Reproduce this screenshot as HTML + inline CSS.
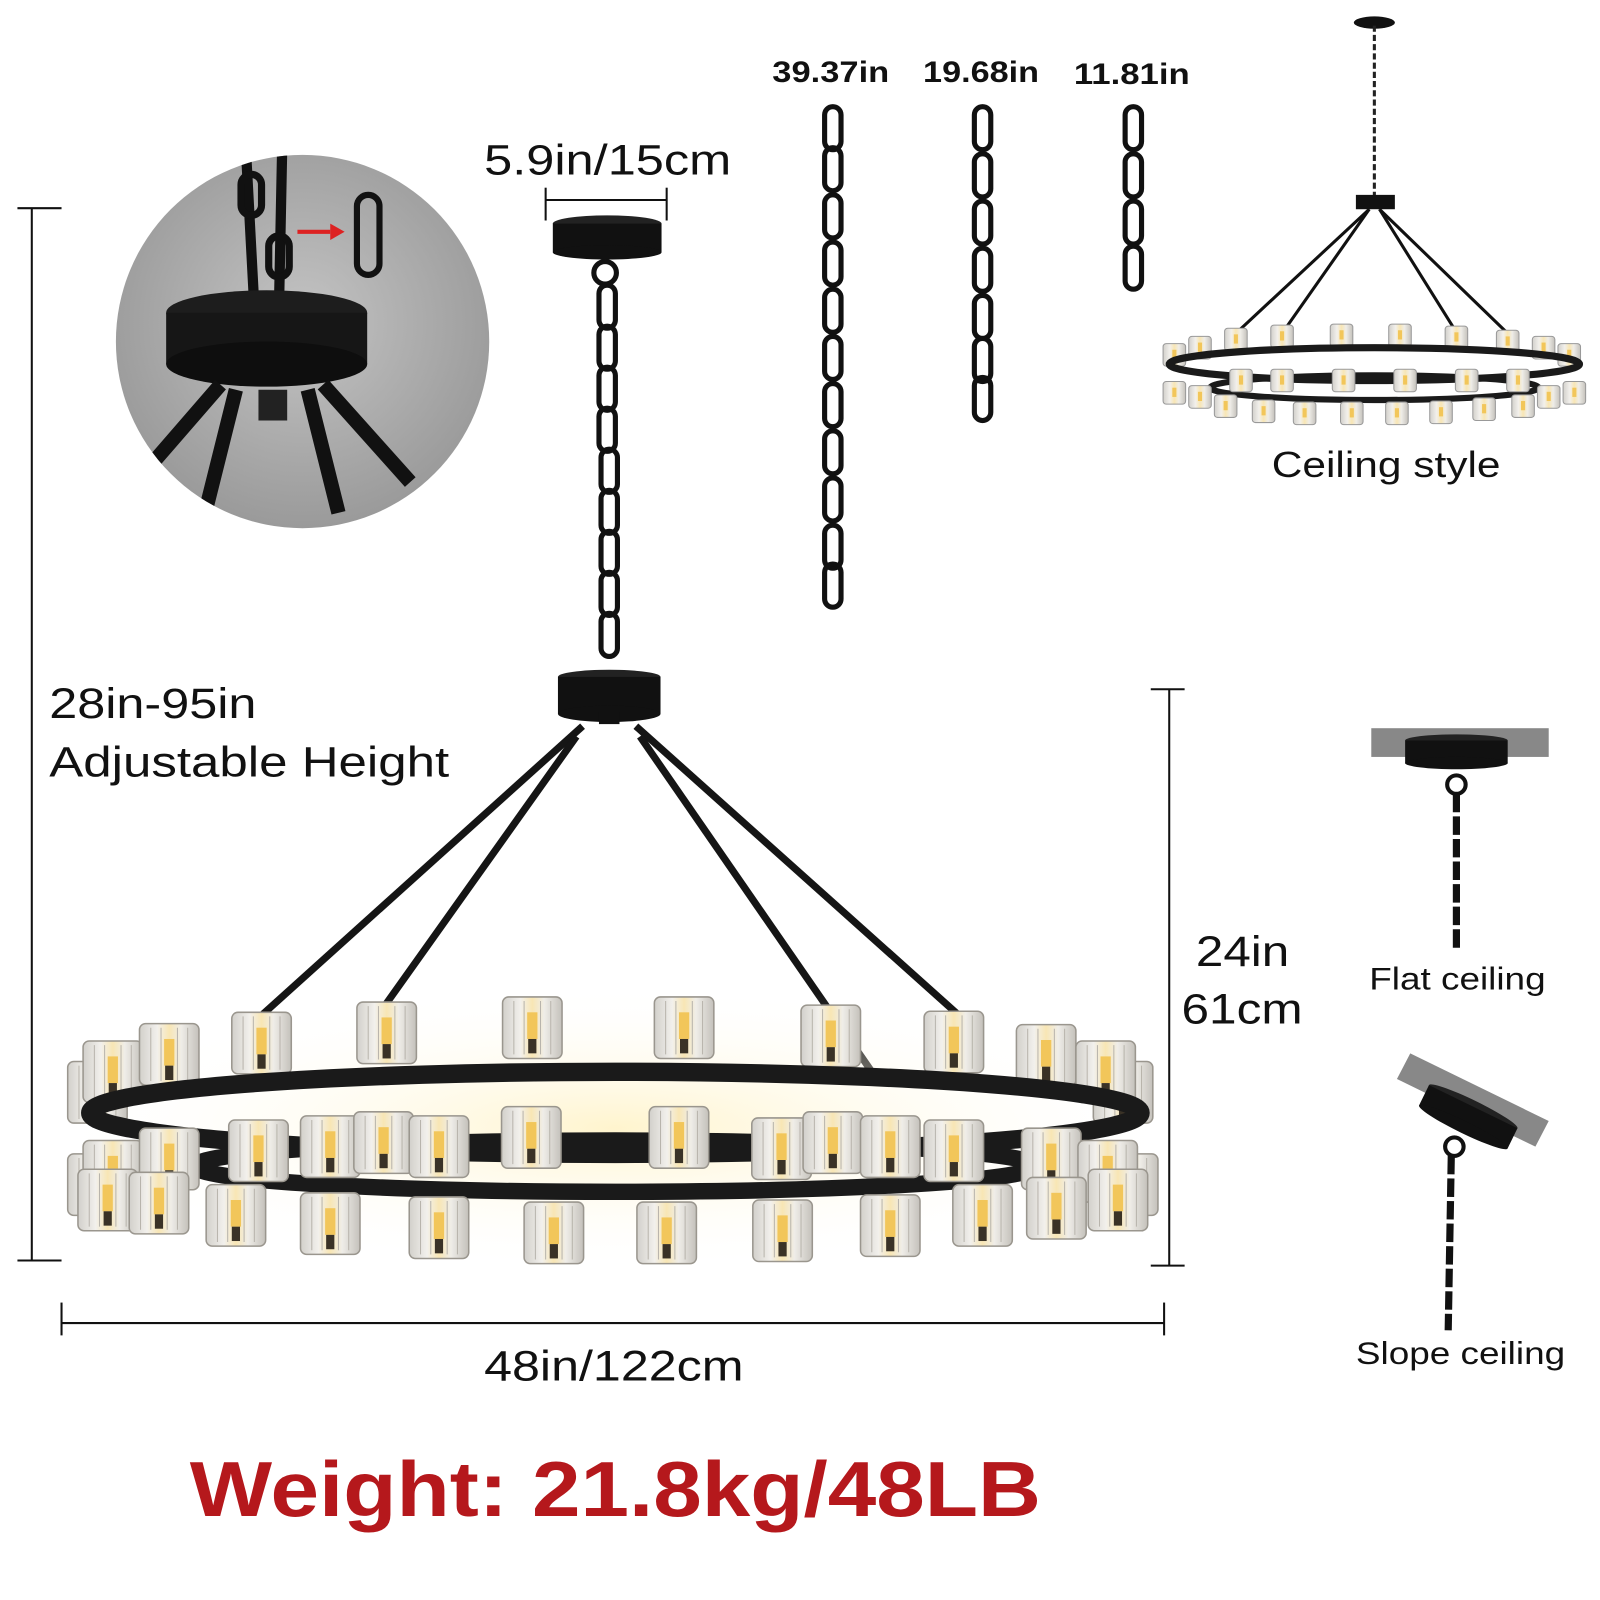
<!DOCTYPE html>
<html><head><meta charset="utf-8"><style>
html,body{margin:0;padding:0;background:#fff;}
svg{display:block;}
text{font-family:"Liberation Sans",Arial,sans-serif;fill:#111;}
</style></head><body>
<svg width="1600" height="1600" viewBox="0 0 1560 1560" xmlns="http://www.w3.org/2000/svg">
<defs>
<radialGradient id="glow" cx="50%" cy="50%" r="50%">
<stop offset="0" stop-color="#fff3c8" stop-opacity="0.9"/><stop offset="1" stop-color="#fff" stop-opacity="0"/></radialGradient>
<linearGradient id="glass" x1="0" x2="1">
<stop offset="0" stop-color="#d2d0cb"/><stop offset="0.3" stop-color="#f2f0ec"/><stop offset="0.5" stop-color="#f8e6b4"/><stop offset="0.7" stop-color="#efede8"/><stop offset="1" stop-color="#c4c1bb"/></linearGradient>
<radialGradient id="inset" cx="50%" cy="45%" r="55%"><stop offset="0" stop-color="#c4c4c4"/><stop offset="1" stop-color="#9a9a9a"/></radialGradient>
<clipPath id="cc"><circle cx="295" cy="333" r="182"/></clipPath>
<g id="sh"><rect x="-29" y="0" width="58" height="60" rx="6" fill="url(#glass)" stroke="#9a968e" stroke-width="1.5"/>
<path d="M-18 4V56M-8 4V56M8 4V56M18 4V56" stroke="#b8b4ac" stroke-width="1"/>
<rect x="-5" y="15" width="10" height="26" fill="#f2c65a"/><rect x="-4" y="41" width="8" height="14" fill="#3a3226"/></g>
<g id="ssh"><rect x="-11" y="0" width="22" height="22" rx="3" fill="url(#glass)" stroke="#999" stroke-width="1"/><rect x="-2" y="6" width="4" height="9" fill="#f2c65a"/></g>
<g id="lnk"><rect x="-8" y="0" width="16" height="42" rx="8" fill="none" stroke="#111" stroke-width="5"/></g>
</defs>

<!-- left height dimension -->
<g stroke="#111" stroke-width="2"><line x1="31" y1="203" x2="31" y2="1229"/><line x1="17" y1="203" x2="60" y2="203"/><line x1="17" y1="1229" x2="60" y2="1229"/></g>
<text x="48" y="700" font-size="42" textLength="202" lengthAdjust="spacingAndGlyphs">28in-95in</text>
<text x="48" y="757" font-size="42" textLength="390" lengthAdjust="spacingAndGlyphs">Adjustable Height</text>

<!-- inset circle -->
<circle cx="295" cy="333" r="182" fill="url(#inset)"/>
<g clip-path="url(#cc)">
<path d="M240 150 L248 300 M275 150 L272 300" stroke="#111" stroke-width="10" fill="none"/>
<rect x="235" y="170" width="20" height="40" rx="10" fill="none" stroke="#111" stroke-width="7"/>
<rect x="262" y="230" width="20" height="40" rx="10" fill="none" stroke="#111" stroke-width="7"/>
<ellipse cx="260" cy="305" rx="98" ry="22" fill="#1d1d1d"/>
<rect x="162" y="305" width="196" height="50" fill="#161616"/>
<ellipse cx="260" cy="355" rx="98" ry="22" fill="#0e0e0e"/>
<rect x="252" y="380" width="28" height="30" fill="#222"/>
<path d="M215 375 L150 450 M230 380 L200 500 M315 375 L400 470 M300 380 L330 500" stroke="#111" stroke-width="14" fill="none"/>
</g>
<rect x="348" y="190" width="22" height="78" rx="11" fill="none" stroke="#111" stroke-width="6"/>
<path d="M290 226 H322" stroke="#d22" stroke-width="4"/><path d="M322 218 L336 226 L322 234Z" fill="#d22"/>

<!-- 5.9in -->
<text x="472" y="170" font-size="42" textLength="241" lengthAdjust="spacingAndGlyphs">5.9in/15cm</text>
<g stroke="#111" stroke-width="2"><line x1="532" y1="195" x2="650" y2="195"/><line x1="532" y1="183" x2="532" y2="215"/><line x1="650" y1="183" x2="650" y2="215"/></g>
<ellipse cx="592" cy="218" rx="53" ry="8" fill="#222"/><rect x="539" y="218" width="106" height="28" fill="#111"/><ellipse cx="592" cy="246" rx="53" ry="7" fill="#111"/>
<circle cx="590" cy="266" r="11" fill="none" stroke="#111" stroke-width="5"/>
<g><use href="#lnk" x="592" y="278"/><use href="#lnk" x="592" y="318"/><use href="#lnk" x="592" y="358"/><use href="#lnk" x="592" y="398"/><use href="#lnk" x="594" y="438"/><use href="#lnk" x="594" y="478"/><use href="#lnk" x="594" y="518"/><use href="#lnk" x="594" y="558"/><use href="#lnk" x="594" y="598"/></g>
<ellipse cx="594" cy="660" rx="50" ry="7" fill="#222"/><rect x="544" y="660" width="100" height="36" fill="#111"/><ellipse cx="594" cy="696" rx="50" ry="8" fill="#111"/>
<rect x="584" y="694" width="20" height="12" fill="#111"/>
<!-- rods -->
<g stroke="#151515" stroke-width="7"><line x1="568" y1="708" x2="255" y2="990"/><line x1="562" y1="718" x2="372" y2="985"/><line x1="620" y1="708" x2="935" y2="990"/><line x1="624" y1="718" x2="850" y2="1045"/></g>

<!-- chandelier glow -->
<ellipse cx="600" cy="1100" rx="560" ry="140" fill="url(#glow)"/>
<g><use href="#sh" x="95" y="1035"/><use href="#sh" x="1095" y="1035"/></g>
<g><use href="#sh" x="110" y="1015"/><use href="#sh" x="165" y="998"/><use href="#sh" x="255" y="987"/><use href="#sh" x="377" y="977"/><use href="#sh" x="519" y="972"/><use href="#sh" x="667" y="972"/><use href="#sh" x="810" y="980"/><use href="#sh" x="930" y="986"/><use href="#sh" x="1020" y="999"/><use href="#sh" x="1078" y="1015"/></g>
<ellipse cx="600" cy="1085" rx="512" ry="40" fill="none" stroke="#1a1a1a" stroke-width="18"/>
<ellipse cx="600" cy="1137" rx="410" ry="25" fill="none" stroke="#1a1a1a" stroke-width="16"/>
<g><use href="#sh" x="95" y="1125"/><use href="#sh" x="1100" y="1125"/><use href="#sh" x="110" y="1112"/><use href="#sh" x="165" y="1100"/><use href="#sh" x="252" y="1092"/><use href="#sh" x="322" y="1088"/><use href="#sh" x="374" y="1084"/><use href="#sh" x="428" y="1088"/><use href="#sh" x="518" y="1079"/><use href="#sh" x="662" y="1079"/><use href="#sh" x="762" y="1090"/><use href="#sh" x="812" y="1084"/><use href="#sh" x="868" y="1088"/><use href="#sh" x="930" y="1092"/><use href="#sh" x="1025" y="1100"/><use href="#sh" x="1080" y="1112"/></g>
<g><use href="#sh" x="105" y="1140"/><use href="#sh" x="155" y="1143"/><use href="#sh" x="230" y="1155"/><use href="#sh" x="322" y="1163"/><use href="#sh" x="428" y="1167"/><use href="#sh" x="540" y="1172"/><use href="#sh" x="650" y="1172"/><use href="#sh" x="763" y="1170"/><use href="#sh" x="868" y="1165"/><use href="#sh" x="958" y="1155"/><use href="#sh" x="1030" y="1148"/><use href="#sh" x="1090" y="1140"/></g>

<!-- right dimension -->
<g stroke="#111" stroke-width="2"><line x1="1140" y1="672" x2="1140" y2="1234"/><line x1="1122" y1="672" x2="1155" y2="672"/><line x1="1122" y1="1234" x2="1155" y2="1234"/></g>
<text x="1166" y="942" font-size="42" textLength="91" lengthAdjust="spacingAndGlyphs">24in</text>
<text x="1152" y="998" font-size="42" textLength="118" lengthAdjust="spacingAndGlyphs">61cm</text>
<g stroke="#111" stroke-width="2"><line x1="60" y1="1290" x2="1135" y2="1290"/><line x1="60" y1="1270" x2="60" y2="1302"/><line x1="1135" y1="1270" x2="1135" y2="1302"/></g>
<text x="472" y="1346" font-size="42" textLength="253" lengthAdjust="spacingAndGlyphs">48in/122cm</text>

<text x="185" y="1478" font-size="76" font-weight="bold" textLength="830" lengthAdjust="spacingAndGlyphs" style="fill:#b5181c">Weight: 21.8kg/48LB</text>

<!-- chains -->
<text x="753" y="80" font-size="29" font-weight="bold" textLength="114" lengthAdjust="spacingAndGlyphs">39.37in</text>
<text x="900" y="80" font-size="29" font-weight="bold" textLength="113" lengthAdjust="spacingAndGlyphs">19.68in</text>
<text x="1047" y="82" font-size="29" font-weight="bold" textLength="113" lengthAdjust="spacingAndGlyphs">11.81in</text>
<g><use href="#lnk" x="812" y="104"/><use href="#lnk" x="812" y="144"/><use href="#lnk" x="812" y="190"/><use href="#lnk" x="812" y="236"/><use href="#lnk" x="812" y="282"/><use href="#lnk" x="812" y="328"/><use href="#lnk" x="812" y="374"/><use href="#lnk" x="812" y="420"/><use href="#lnk" x="812" y="466"/><use href="#lnk" x="812" y="512"/><use href="#lnk" x="812" y="550"/>
<use href="#lnk" x="958" y="104"/><use href="#lnk" x="958" y="150"/><use href="#lnk" x="958" y="196"/><use href="#lnk" x="958" y="242"/><use href="#lnk" x="958" y="288"/><use href="#lnk" x="958" y="330"/><use href="#lnk" x="958" y="368"/>
<use href="#lnk" x="1105" y="104"/><use href="#lnk" x="1105" y="150"/><use href="#lnk" x="1105" y="196"/><use href="#lnk" x="1105" y="240"/></g>

<!-- ceiling style mini -->
<ellipse cx="1340" cy="22" rx="20" ry="6" fill="#111"/>
<line x1="1340" y1="25" x2="1340" y2="192" stroke="#222" stroke-width="3" stroke-dasharray="6 3"/>
<rect x="1322" y="190" width="38" height="14" fill="#111"/>
<g stroke="#111" stroke-width="3"><line x1="1335" y1="204" x2="1205" y2="325"/><line x1="1335" y1="204" x2="1250" y2="325"/><line x1="1345" y1="204" x2="1470" y2="325"/><line x1="1345" y1="204" x2="1430" y2="340"/></g>
<g><use href="#ssh" x="1145" y="335"/><use href="#ssh" x="1170" y="328"/><use href="#ssh" x="1205" y="320"/><use href="#ssh" x="1250" y="317"/><use href="#ssh" x="1308" y="316"/><use href="#ssh" x="1365" y="316"/><use href="#ssh" x="1420" y="318"/><use href="#ssh" x="1470" y="322"/><use href="#ssh" x="1505" y="328"/><use href="#ssh" x="1530" y="335"/></g>
<ellipse cx="1340" cy="355" rx="200" ry="16" fill="none" stroke="#1a1a1a" stroke-width="7"/>
<ellipse cx="1340" cy="378" rx="160" ry="12" fill="none" stroke="#1a1a1a" stroke-width="6"/>
<g><use href="#ssh" x="1145" y="372"/><use href="#ssh" x="1170" y="376"/><use href="#ssh" x="1195" y="385"/><use href="#ssh" x="1232" y="390"/><use href="#ssh" x="1272" y="392"/><use href="#ssh" x="1318" y="392"/><use href="#ssh" x="1362" y="392"/><use href="#ssh" x="1405" y="391"/><use href="#ssh" x="1447" y="388"/><use href="#ssh" x="1485" y="385"/><use href="#ssh" x="1510" y="376"/><use href="#ssh" x="1535" y="372"/><use href="#ssh" x="1210" y="360"/><use href="#ssh" x="1250" y="360"/><use href="#ssh" x="1310" y="360"/><use href="#ssh" x="1370" y="360"/><use href="#ssh" x="1430" y="360"/><use href="#ssh" x="1480" y="360"/></g>
<text x="1240" y="465" font-size="35" textLength="223" lengthAdjust="spacingAndGlyphs">Ceiling style</text>

<!-- flat ceiling -->
<rect x="1337" y="710" width="173" height="28" fill="#888"/>
<ellipse cx="1420" cy="722" rx="50" ry="6" fill="#222"/><rect x="1370" y="722" width="100" height="22" fill="#111"/><ellipse cx="1420" cy="744" rx="50" ry="6" fill="#111"/>
<circle cx="1420" cy="765" r="9" fill="none" stroke="#111" stroke-width="4"/>
<path d="M1420 774 L1420 925" stroke="#111" stroke-width="7" stroke-dasharray="18 4"/>
<text x="1335" y="965" font-size="31" textLength="172" lengthAdjust="spacingAndGlyphs">Flat ceiling</text>

<!-- slope ceiling -->
<polygon points="1375,1027 1510,1093 1497,1118 1362,1052" fill="#888"/>
<g transform="rotate(26 1432 1088)"><ellipse cx="1432" cy="1078" rx="48" ry="6" fill="#222"/><rect x="1384" y="1078" width="96" height="22" fill="#111"/><ellipse cx="1432" cy="1100" rx="48" ry="6" fill="#111"/></g>
<circle cx="1418" cy="1118" r="9" fill="none" stroke="#111" stroke-width="4"/>
<path d="M1415 1127 L1412 1297" stroke="#111" stroke-width="7" stroke-dasharray="18 4"/>
<text x="1322" y="1330" font-size="31" textLength="204" lengthAdjust="spacingAndGlyphs">Slope ceiling</text>
</svg>
</body></html>
